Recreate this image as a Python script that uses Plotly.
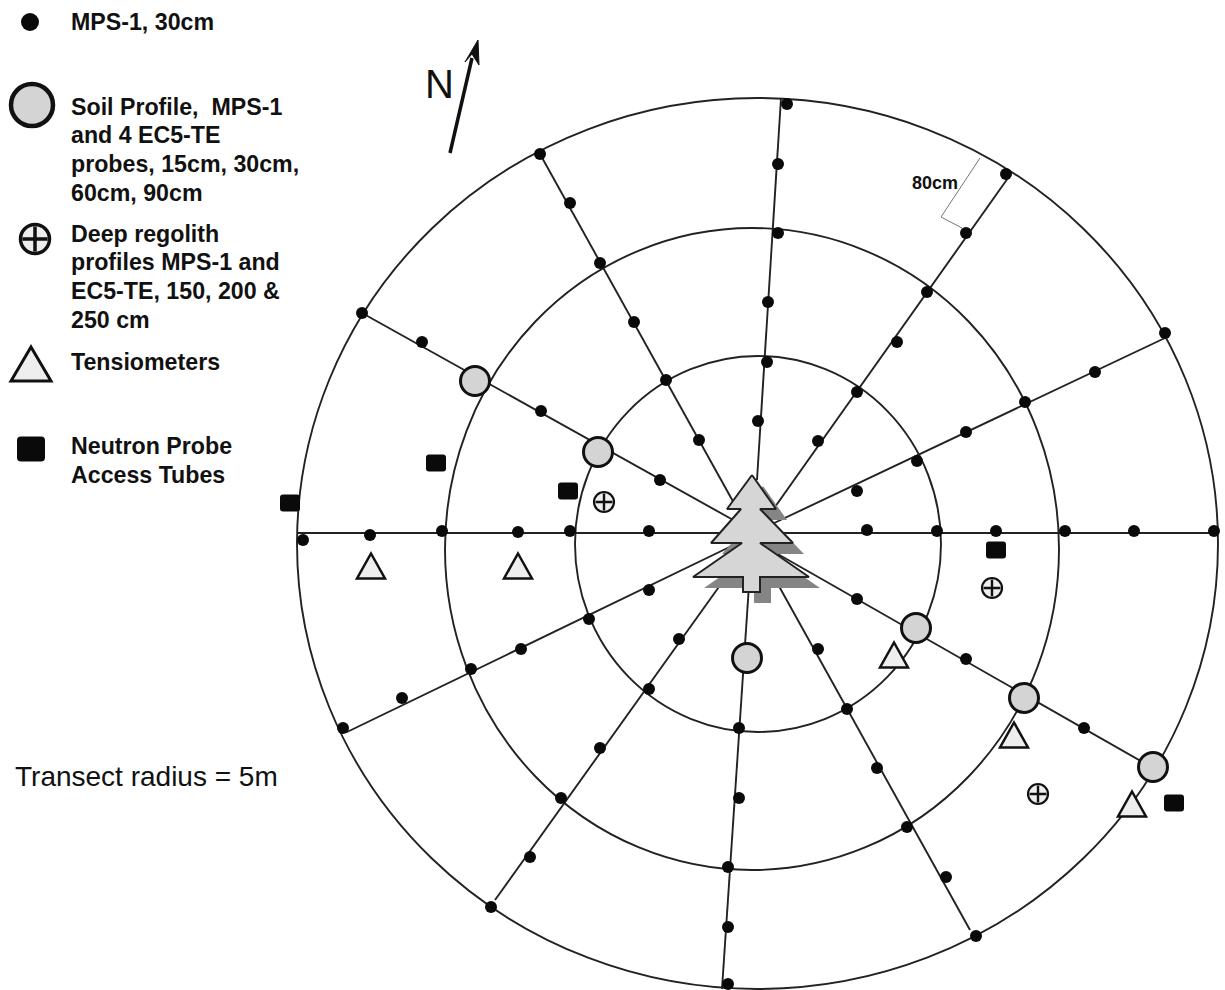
import plotly.graph_objects as go

# everything in its pixel coordinates
ring_left = [575, 445, 297]
ring_right = [941, 1059, 1218]
ring_top = [356, 228, 98]
ring_bottom = [732, 870, 989]

# transects start under the tree, they do not all meet in one point
transect_start_x = [757, 735, 735, 770, 770, 753, 753, 742, 731, 749, 770, 762]
transect_start_y = [480, 505, 521, 514, 525, 533, 533, 541, 570, 585, 570, 545]
transect_end_x = [781, 540, 362, 1008, 1165, 297, 1218, 347, 495, 722, 970, 1153]
transect_end_y = [98, 154, 313, 178, 338, 533, 533, 732, 900, 989, 930, 768]

dots_x = [787, 778, 778, 768, 767, 758,
          540, 570, 600, 634, 666, 699,
          362, 422, 541, 660,
          1006, 966, 927, 897, 857, 818,
          1165, 1095, 1025, 966, 917, 857,
          303, 370, 442, 518, 570, 649,
          867, 937, 996, 1065, 1134, 1214,
          343, 402, 471, 521, 589, 649,
          491, 530, 561, 600, 649, 679,
          728, 728, 728, 739, 739,
          976, 946, 907, 877, 847, 818,
          857, 966, 1084]
dots_y = [104, 164, 233, 302, 362, 421,
          154, 203, 263, 322, 380, 440,
          313, 342, 411, 480,
          174, 233, 292, 342, 392, 441,
          333, 372, 402, 432, 461, 491,
          540, 535, 531, 532, 531, 531,
          530, 531, 531, 531, 531, 531,
          728, 698, 669, 649, 619, 590,
          907, 857, 798, 748, 689, 639,
          984, 927, 867, 798, 728,
          936, 877, 827, 768, 709, 649,
          599, 659, 728]

soil_x = [475, 598, 747, 916, 1024, 1153]
soil_y = [381, 452, 658, 628, 698, 767]

deep_x = [604, 992, 1038]
deep_y = [502, 588, 794]

tens_x = [371, 518, 894, 1014, 1132]
tens_y = [566, 566, 655, 735, 804]

tube_x = [290, 436, 568, 996, 1174]
tube_y = [503, 463, 491, 550, 803]

tree_x = [752, 727, 741, 711, 742, 693, 743, 743, 760, 760, 809, 760, 793, 760, 776, 752]
tree_y = [475, 509, 509, 543, 543, 577, 577, 592, 592, 577, 577, 543, 543, 509, 509, 475]
shadow_dx, shadow_dy = 11, 11

arrow_x = [478, 465, 472, 479, 478]
arrow_y = [40, 62, 54, 65, 40]

legend_lines = [
    ("MPS-1, 30cm", 22),
    ("Soil Profile,  MPS-1", 107), ("and 4 EC5-TE", 135), ("probes, 15cm, 30cm,", 164), ("60cm, 90cm", 193),
    ("Deep regolith", 234), ("profiles MPS-1 and", 262), ("EC5-TE, 150, 200 &", 291), ("250 cm", 320),
    ("Tensiometers", 362),
    ("Neutron Probe", 446), ("Access Tubes", 475),
]

INK = '#111111'


def triangle(fig, cx, cy, half_w, half_h, lw):
    path = f"M {cx} {cy - half_h} L {cx + half_w} {cy + half_h} L {cx - half_w} {cy + half_h} Z"
    fig.add_shape(type='path', path=path, fillcolor='#eeeeee', line=dict(color=INK, width=lw))


def tube(fig, cx, cy, half_w, half_h, c):
    # rounded rectangle
    l, r, t, b = cx - half_w, cx + half_w, cy - half_h, cy + half_h
    path = (f"M {l + c} {t} L {r - c} {t} Q {r} {t} {r} {t + c} L {r} {b - c} Q {r} {b} {r - c} {b} "
            f"L {l + c} {b} Q {l} {b} {l} {b - c} L {l} {t + c} Q {l} {t} {l + c} {t} Z")
    fig.add_shape(type='path', path=path, fillcolor='#0a0a0a', line=dict(width=0))


fig = go.Figure()

# transects
for sx, sy, ex, ey in zip(transect_start_x, transect_start_y, transect_end_x, transect_end_y):
    fig.add_trace(go.Scatter(x=[sx, ex], y=[sy, ey], mode='lines',
                             line=dict(color='#222222', width=1.9)))

for x0, x1, y0, y1 in zip(ring_left, ring_right, ring_top, ring_bottom):
    fig.add_shape(type='circle', x0=x0, x1=x1, y0=y0, y1=y1,
                  line=dict(color='#222222', width=1.9), layer='below')

# tree and its shadow
fig.add_trace(go.Scatter(x=[v + shadow_dx for v in tree_x], y=[v + shadow_dy for v in tree_y],
                         mode='lines', fill='toself', fillcolor='#858585', line=dict(width=0)))
fig.add_trace(go.Scatter(x=tree_x, y=tree_y, mode='lines', fill='toself', fillcolor='#d6d6d6',
                         line=dict(color='#222222', width=2)))

# 80cm bracket
fig.add_trace(go.Scatter(x=[980, 941, 962], y=[158, 217, 228], mode='lines',
                         line=dict(color='#777777', width=1)))

# north arrow
fig.add_trace(go.Scatter(x=[450, 472], y=[153, 58], mode='lines',
                         line=dict(color='#111111', width=3.5)))
fig.add_trace(go.Scatter(x=arrow_x, y=arrow_y, mode='lines', fill='toself', fillcolor='#111111',
                         line=dict(color='#111111', width=1)))

# measurement points, with the legend symbol added to each series
fig.add_trace(go.Scatter(x=dots_x, y=dots_y, mode='markers',
                         marker=dict(size=12, color='#0a0a0a')))
fig.add_trace(go.Scatter(x=[30], y=[22], mode='markers',
                         marker=dict(size=18, color='#0a0a0a')))

fig.add_trace(go.Scatter(x=soil_x, y=soil_y, mode='markers',
                         marker=dict(size=29, color='#d4d4d4', line=dict(color=INK, width=3))))
fig.add_trace(go.Scatter(x=[32], y=[105], mode='markers',
                         marker=dict(size=42, color='#d4d4d4', line=dict(color=INK, width=4.5))))

fig.add_trace(go.Scatter(x=deep_x, y=deep_y, mode='markers',
                         marker=dict(size=20, color='#eeeeee', line=dict(color=INK, width=2.2))))
fig.add_trace(go.Scatter(x=deep_x, y=deep_y, mode='markers',
                         marker=dict(size=12, symbol='cross-thin-open', color=INK, line=dict(color=INK, width=2.4))))
fig.add_trace(go.Scatter(x=[35], y=[239], mode='markers',
                         marker=dict(size=29, color='#eeeeee', line=dict(color=INK, width=3.5))))
fig.add_trace(go.Scatter(x=[35], y=[239], mode='markers',
                         marker=dict(size=18, symbol='cross-thin-open', color=INK, line=dict(color=INK, width=3.5))))

for tx, ty in zip(tens_x, tens_y):
    triangle(fig, tx, ty, 14, 12.5, 2.5)
triangle(fig, 31, 364, 20, 17, 3)

for tx, ty in zip(tube_x, tube_y):
    tube(fig, tx, ty, 10, 8.5, 3)
tube(fig, 31, 449, 14, 12.5, 4)

for label, ly in legend_lines:
    fig.add_annotation(x=69, y=ly, text=label, showarrow=False, xanchor='left', yanchor='middle',
                       font=dict(family='Liberation Sans', size=23.2, color=INK, weight='bold'))

fig.add_annotation(x=439, y=84, text='N', showarrow=False,
                   font=dict(family='Liberation Sans', size=40, color=INK))
fig.add_annotation(x=146, y=776, text='Transect radius = 5m', showarrow=False,
                   font=dict(family='Liberation Sans', size=28, color=INK))
fig.add_annotation(x=935, y=183, text='80cm', showarrow=False,
                   font=dict(family='Liberation Sans', size=18, color=INK, weight='bold'))

fig.update_layout(
    width=1225, height=990,
    margin=dict(t=0, r=0, l=0, b=0),
    paper_bgcolor='white', plot_bgcolor='white',
    showlegend=False,
    xaxis=dict(range=[0, 1225], visible=False),
    yaxis=dict(range=[990, 0], visible=False),
)

fig.write_html("out.html", config=dict(displayModeBar=False),
               post_script="document.body.style.margin='0';")
